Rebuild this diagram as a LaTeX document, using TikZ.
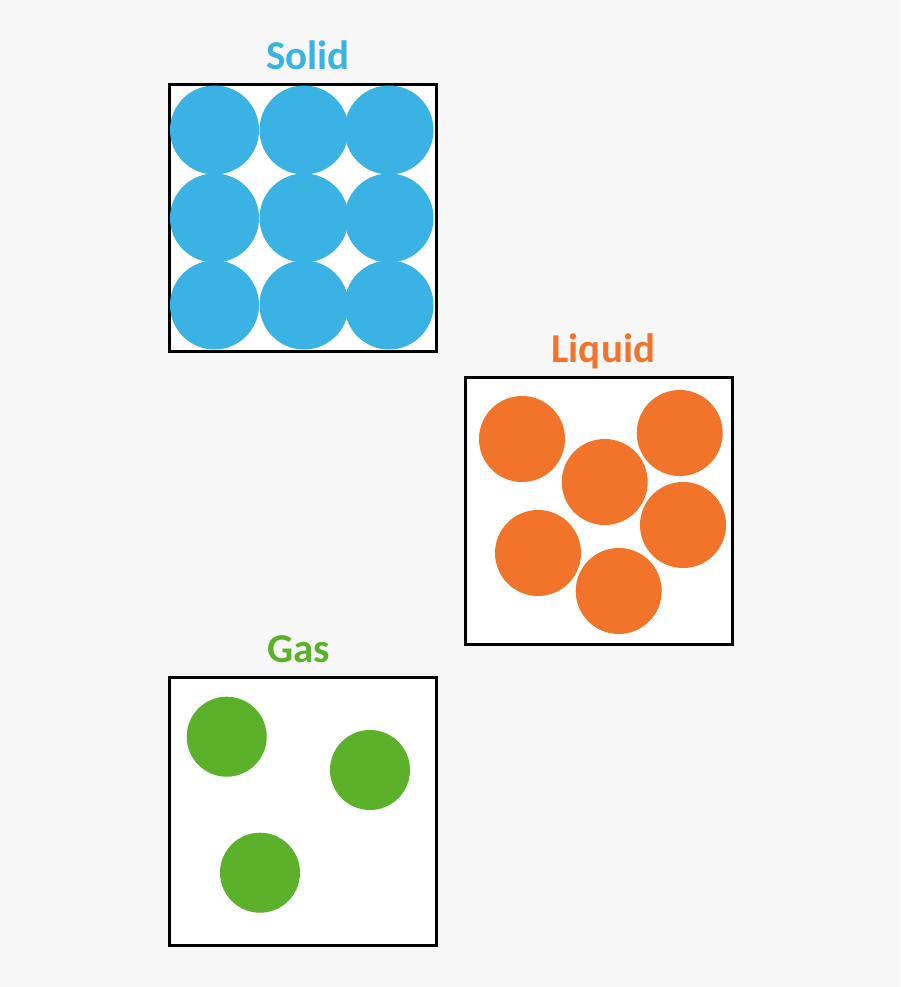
\documentclass[tikz,border=0pt]{standalone}
\usepackage{fontspec}
\setmainfont{Carlito}
\definecolor{bgc}{RGB}{247,247,247}
\definecolor{solidc}{RGB}{58,178,228}
\definecolor{liquidc}{RGB}{241,116,42}
\definecolor{gasc}{RGB}{91,178,42}
\begin{document}
\begin{tikzpicture}[x=1pt,y=-1pt,
  box/.style={draw=black,line width=3pt,fill=white},
  label/.style={font=\fontsize{41}{41}\selectfont\bfseries,anchor=base,inner sep=0pt},
  particle/.style={circle,inner sep=0pt,draw=none}]
\fill[bgc] (0,0) rectangle (900,987);
\useasboundingbox (0,0) rectangle (900,987);
% boxes
\draw[box] (169,85) rectangle (436,351);
\draw[box] (465,377) rectangle (732,644);
\draw[box] (169,677.5) rectangle (436,945);
% labels
\node[label,text=solidc] (lsolid) at (308,69.3) {Solid};
\node[label,text=liquidc] (lliquid) at (603.3,362.3) {Liquid};
\node[label,text=gasc] (lgas) at (298.7,662.3) {Gas};
% solid particles
\foreach \cx/\cy [count=\i] in {214.5/130,304/130,389/130,214.5/218,304/218,389/218,214.5/305,304/305,389/305}
  \fill[solidc] (\cx,\cy) circle[radius=44.5];
% liquid particles
\foreach \cx/\cy in {522/439,604.7/482,679.7/433,538/553,683/525,618.7/591}
  \fill[liquidc] (\cx,\cy) circle[radius=43];
% gas particles
\foreach \cx/\cy in {226.7/736.7,370/770,260/872.7}
  \fill[gasc] (\cx,\cy) circle[radius=40];
\end{tikzpicture}
\end{document}
